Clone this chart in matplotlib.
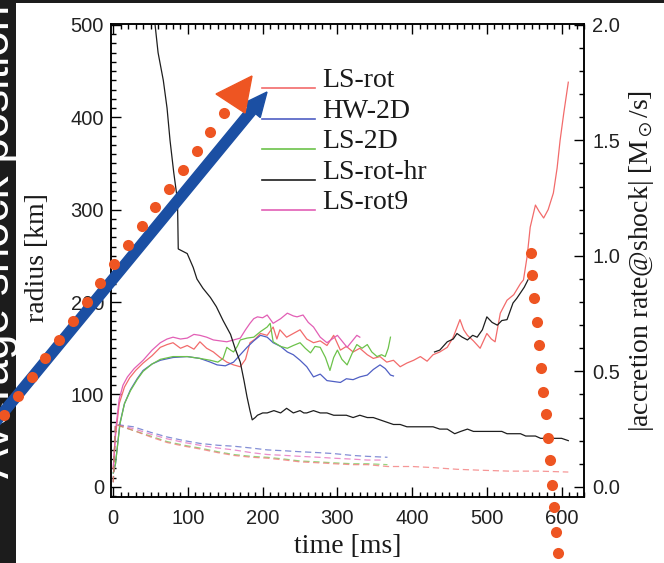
import matplotlib
matplotlib.use('Agg')
import matplotlib.pyplot as plt
from matplotlib.ticker import MultipleLocator
from matplotlib.patches import FancyArrow, Polygon

plt.rcParams['mathtext.fontset'] = 'stix'

# ---- datos ----
# radio de choque [km]
t_lsrot = [0, 3, 8, 15, 22, 30, 40, 52, 63, 72, 80, 90, 99, 108, 116, 125, 134, 143, 152, 161,
           170, 177, 183, 190, 197, 206, 214, 219, 223, 232, 241, 250, 259, 268, 277, 286, 295,
           304, 312, 321, 330, 340, 348, 357, 366, 375, 384, 393, 402, 411, 420, 428, 437, 447,
           455, 464, 469, 474, 482, 491, 500, 506, 511, 518, 527, 536, 545, 549, 554, 558, 565,
           570, 576, 582, 589, 594, 598, 603, 609]
r_lsrot = [20, 55, 90, 108, 118, 126, 134, 142, 151, 154, 156, 150, 153, 149, 157, 150, 146, 140,
           135, 132, 130, 138, 156, 160, 166, 164, 173, 160, 170, 162, 166, 170, 160, 156, 158, 153,
           164, 148, 152, 146, 150, 143, 139, 141, 135, 137, 130, 134, 137, 141, 136, 143, 146, 151,
           162, 181, 170, 164, 158, 150, 166, 160, 157, 188, 202, 208, 220, 224, 250, 281, 305, 298,
           291, 300, 318, 345, 375, 405, 438]

t_hw2d = [0, 3, 9, 15, 23, 32, 40, 52, 63, 80, 99, 116, 130, 139, 150, 161, 170, 179, 188, 197,
          206, 214, 224, 233, 241, 250, 259, 268, 277, 286, 295, 304, 312, 321, 330, 340, 348,
          357, 364, 371, 375]
r_hw2d = [15, 25, 69, 90, 105, 117, 126, 133, 137, 140, 141, 139, 135, 132, 131, 135, 143, 151,
          158, 164, 162, 156, 152, 146, 143, 137, 130, 119, 122, 115, 114, 113, 117, 116, 119, 121,
          127, 132, 128, 121, 120]

t_ls2d = [0, 3, 9, 15, 23, 32, 40, 52, 63, 80, 99, 116, 130, 140, 147, 152, 157, 161, 166, 170,
          179, 188, 197, 206, 210, 214, 224, 233, 241, 250, 257, 264, 270, 277, 284, 290, 295,
          300, 306, 313, 320, 326, 333, 340, 346, 353, 359, 364, 368, 371]
r_ls2d = [15, 25, 68, 90, 104, 116, 125, 133, 138, 141, 141, 139, 137, 135, 139, 151, 148, 146,
          152, 159, 161, 162, 168, 173, 177, 157, 152, 150, 153, 156, 150, 145, 152, 151, 140, 126,
          140, 148, 138, 132, 145, 154, 150, 154, 146, 141, 143, 141, 150, 162]

t_rot9 = [0, 3, 8, 13, 19, 28, 40, 52, 63, 72, 80, 90, 99, 108, 116, 125, 134, 143, 152, 161,
          170, 177, 183, 188, 193, 200, 206, 214, 224, 233, 241, 246, 254, 261, 268, 277, 286,
          293, 300, 306, 313, 320, 326, 330]
r_rot9 = [20, 60, 95, 110, 119, 128, 137, 148, 156, 160, 162, 160, 161, 165, 164, 162, 159, 158,
          157, 159, 161, 170, 177, 182, 184, 183, 186, 177, 182, 188, 185, 184, 186, 178, 173, 162,
          156, 160, 164, 158, 151, 158, 164, 162]

t_hr = [430, 437, 447, 455, 460, 467, 474, 481, 487, 494, 500, 507, 514, 520, 527, 531, 535,
        540, 545, 550, 555]
r_hr = [146, 148, 157, 160, 166, 162, 159, 164, 162, 170, 184, 178, 175, 180, 181, 190, 199,
        204, 210, 216, 224]

# tasa de acrecion [Msun/s]
t_acc_hr = [52, 56, 60, 67, 72, 76, 81, 86, 87, 93, 99, 107, 112, 120, 130, 138, 147, 152, 157,
            163, 170, 175, 179, 183, 186, 190, 193, 200, 206, 215, 224, 232, 241, 250, 255, 259,
            268, 277, 286, 295, 304, 312, 321, 330, 340, 348, 357, 366, 375, 384, 393, 402, 411,
            420, 428, 437, 447, 452, 457, 465, 474, 482, 491, 500, 510, 520, 527, 535, 545, 552,
            558, 565, 572, 581, 590, 600, 609]
m_acc_hr = [2.1, 2.0, 1.88, 1.76, 1.64, 1.5, 1.36, 1.24, 1.03, 1.02, 1.01, 0.95, 0.9, 0.86, 0.82,
            0.78, 0.72, 0.69, 0.66, 0.6, 0.54, 0.46, 0.39, 0.33, 0.29, 0.3, 0.31, 0.32, 0.32, 0.33,
            0.32, 0.34, 0.32, 0.33, 0.32, 0.32, 0.33, 0.32, 0.32, 0.31, 0.31, 0.31, 0.3, 0.31, 0.3,
            0.3, 0.29, 0.28, 0.27, 0.27, 0.26, 0.26, 0.26, 0.26, 0.26, 0.25, 0.25, 0.24, 0.23, 0.24,
            0.25, 0.24, 0.24, 0.24, 0.24, 0.24, 0.23, 0.23, 0.23, 0.22, 0.22, 0.22, 0.21, 0.21,
            0.21, 0.21, 0.2]

t_acc = [0, 3, 27, 50, 72, 95, 116, 140, 161, 185, 206, 230, 250, 275, 295, 320, 340, 367]
m_acc_hw2d = [0.02, 0.27, 0.26, 0.236, 0.216, 0.2, 0.188, 0.18, 0.176, 0.168, 0.16, 0.156,
              0.152, 0.148, 0.144, 0.136, 0.132, 0.128]
m_acc_ls2d = [0.02, 0.27, 0.244, 0.22, 0.196, 0.18, 0.168, 0.152, 0.14, 0.132, 0.128, 0.12,
              0.112, 0.108, 0.104, 0.1, 0.1, 0.096]
t_acc_rot9 = [0, 3, 27, 50, 72, 95, 116, 140, 161, 185, 206, 230, 250, 275, 295, 320, 340, 360]
m_acc_rot9 = [0.02, 0.27, 0.252, 0.228, 0.208, 0.192, 0.18, 0.168, 0.16, 0.148, 0.14, 0.136,
              0.132, 0.128, 0.124, 0.12, 0.116, 0.116]
t_acc_lsrot = [0, 3, 27, 50, 72, 95, 116, 140, 161, 185, 206, 230, 250, 275, 295, 320, 340, 367,
               400, 424, 460, 491, 530, 570, 609]
m_acc_lsrot = [0.02, 0.27, 0.244, 0.216, 0.192, 0.176, 0.164, 0.148, 0.136, 0.128, 0.124,
               0.116, 0.108, 0.104, 0.1, 0.096, 0.096, 0.088, 0.088, 0.084, 0.076, 0.072,
               0.068, 0.068, 0.064]

labels = ['LS-rot', 'HW-2D', 'LS-2D', 'LS-rot-hr', 'LS-rot9']
colores = ['#f26b6b', '#4f5fc4', '#6cc24a', '#1e1e1e', '#e25fb5']

# puntos y flechas superpuestos (pixeles de la diapositiva)
pts_izq_x = [4, 18, 32, 45, 59, 73, 87, 100, 114, 128, 142, 155, 169, 183, 197, 210, 224]
pts_izq_y = [415, 396, 377, 358, 340, 321, 302, 283, 264, 245, 226, 207, 189, 170, 151, 132, 113]
pts_der_x = [531, 532, 534, 537, 539, 541, 543, 546, 548, 550, 552, 554, 556, 558]
pts_der_y = [253, 275, 298, 322, 345, 368, 392, 414, 438, 460, 485, 507, 532, 553]

W, H = 664, 563
fig = plt.figure(figsize=(W / 100, H / 100), dpi=100)
ax = fig.add_axes([111 / W, 1 - 497 / H, 473 / W, 473 / H])
ax2 = ax.twinx()

lw = 0.9
ax.plot(t_lsrot, r_lsrot, color=colores[0], lw=lw)
ax.plot(t_hw2d, r_hw2d, color=colores[1], lw=lw)
ax.plot(t_ls2d, r_ls2d, color=colores[2], lw=lw)
ax.plot(t_rot9, r_rot9, color=colores[4], lw=lw)
ax.plot(t_hr, r_hr, color=colores[3], lw=lw)

ax2.plot(t_acc_hr, m_acc_hr, color=colores[3], lw=lw)
ax2.plot(t_acc, m_acc_hw2d, color=colores[1], lw=lw, dashes=(5, 3), alpha=0.7)
ax2.plot(t_acc_rot9, m_acc_rot9, color=colores[4], lw=lw, dashes=(5, 3), alpha=0.7)
ax2.plot(t_acc, m_acc_ls2d, color=colores[2], lw=lw, dashes=(5, 3), alpha=0.7)
ax2.plot(t_acc_lsrot, m_acc_lsrot, color=colores[0], lw=lw, dashes=(5, 3), alpha=0.7)

ax.set_xlim(-3, 630)
ax.set_ylim(-11, 501)
ax2.set_ylim(-11 / 250, 501 / 250)

ax.set_xticks(range(0, 601, 100))
ax.set_yticks(range(0, 501, 100))
ax.xaxis.set_minor_locator(MultipleLocator(10))
ax.yaxis.set_minor_locator(MultipleLocator(10))
ax2.set_yticks([0, 0.5, 1.0, 1.5, 2.0])
ax2.set_yticklabels(['0.0', '0.5', '1.0', '1.5', '2.0'])
ax2.yaxis.set_minor_locator(MultipleLocator(0.1))

for a in (ax, ax2):
    for s in a.spines.values():
        s.set_linewidth(1.1)
    a.tick_params(which='both', direction='in', width=1.0, labelsize=14.5,
                  labelfontfamily='Liberation Sans', labelcolor='#222222')
    a.tick_params(which='major', length=7)
    a.tick_params(which='minor', length=3.5)
ax.tick_params(which='both', top=True, right=False)
ax.tick_params(axis='x', pad=9)
ax.tick_params(axis='y', pad=5)
ax2.tick_params(axis='y', pad=6)

ax.set_xlabel('time [ms]', family='Liberation Serif', fontsize=20, color='#1a1a1a')
ax.xaxis.set_label_coords(0.5, -0.078)
ax.set_ylabel('radius [km]', family='Liberation Serif', fontsize=20, color='#1a1a1a')
ax.yaxis.set_label_coords(-0.129, 0.507)
ax2.set_ylabel(r'|accretion rate@shock| [M$_\odot$/s]', family='Liberation Serif',
               fontsize=20, color='#1a1a1a')
ax2.yaxis.set_label_coords(1.091, 0.5)

# franja negra de la diapositiva
franja = fig.add_axes([0, 0, 16 / W, 1], zorder=5)
franja.set_facecolor('#1c1c1c')
franja.set_xlim(0, 16)
franja.set_ylim(H, 0)
franja.set_xticks([])
franja.set_yticks([])
for s in franja.spines.values():
    s.set_visible(False)
franja.text(9, 478, 'Average shock position', rotation=90, rotation_mode='anchor',
            ha='left', va='baseline', color='white', fontsize=33,
            family='Liberation Sans', clip_on=True)

barra = fig.add_axes([0, 1 - 3 / H, 1, 3 / H], zorder=5)
barra.set_facecolor('#1c1c1c')
barra.set_xticks([])
barra.set_yticks([])
for s in barra.spines.values():
    s.set_visible(False)

# capa de superposicion en pixeles
ov = fig.add_axes([0, 0, 1, 1], zorder=10)
ov.set_xlim(0, W)
ov.set_ylim(H, 0)
ov.axis('off')
ov.patch.set_alpha(0)

# leyenda
ley_y = [88, 119, 149, 180, 210]
for lab, col, yy in zip(labels, colores, ley_y):
    ov.plot([262, 315], [yy, yy], color=col, lw=1.2)
    ov.text(322, yy - 1, lab, family='Liberation Serif', fontsize=20, color='#1a1a1a',
            va='baseline', ha='left')

naranja = '#ee5522'
azul = '#1b4fa3'
ov.add_patch(FancyArrow(-12, 431, 279, -339, width=10, head_width=22, head_length=24,
                        length_includes_head=True, color=azul, clip_on=False))
ov.add_patch(Polygon([(216, 94), (252, 76), (245, 113)], closed=True, color=naranja,
                     clip_on=False))
ov.plot(pts_izq_x, pts_izq_y, 'o', color=naranja, ms=8, mec='none', clip_on=False)
ov.plot(pts_der_x, pts_der_y, 'o', color=naranja, ms=8, mec='none', clip_on=False)

fig.savefig('out.png', dpi=100)
